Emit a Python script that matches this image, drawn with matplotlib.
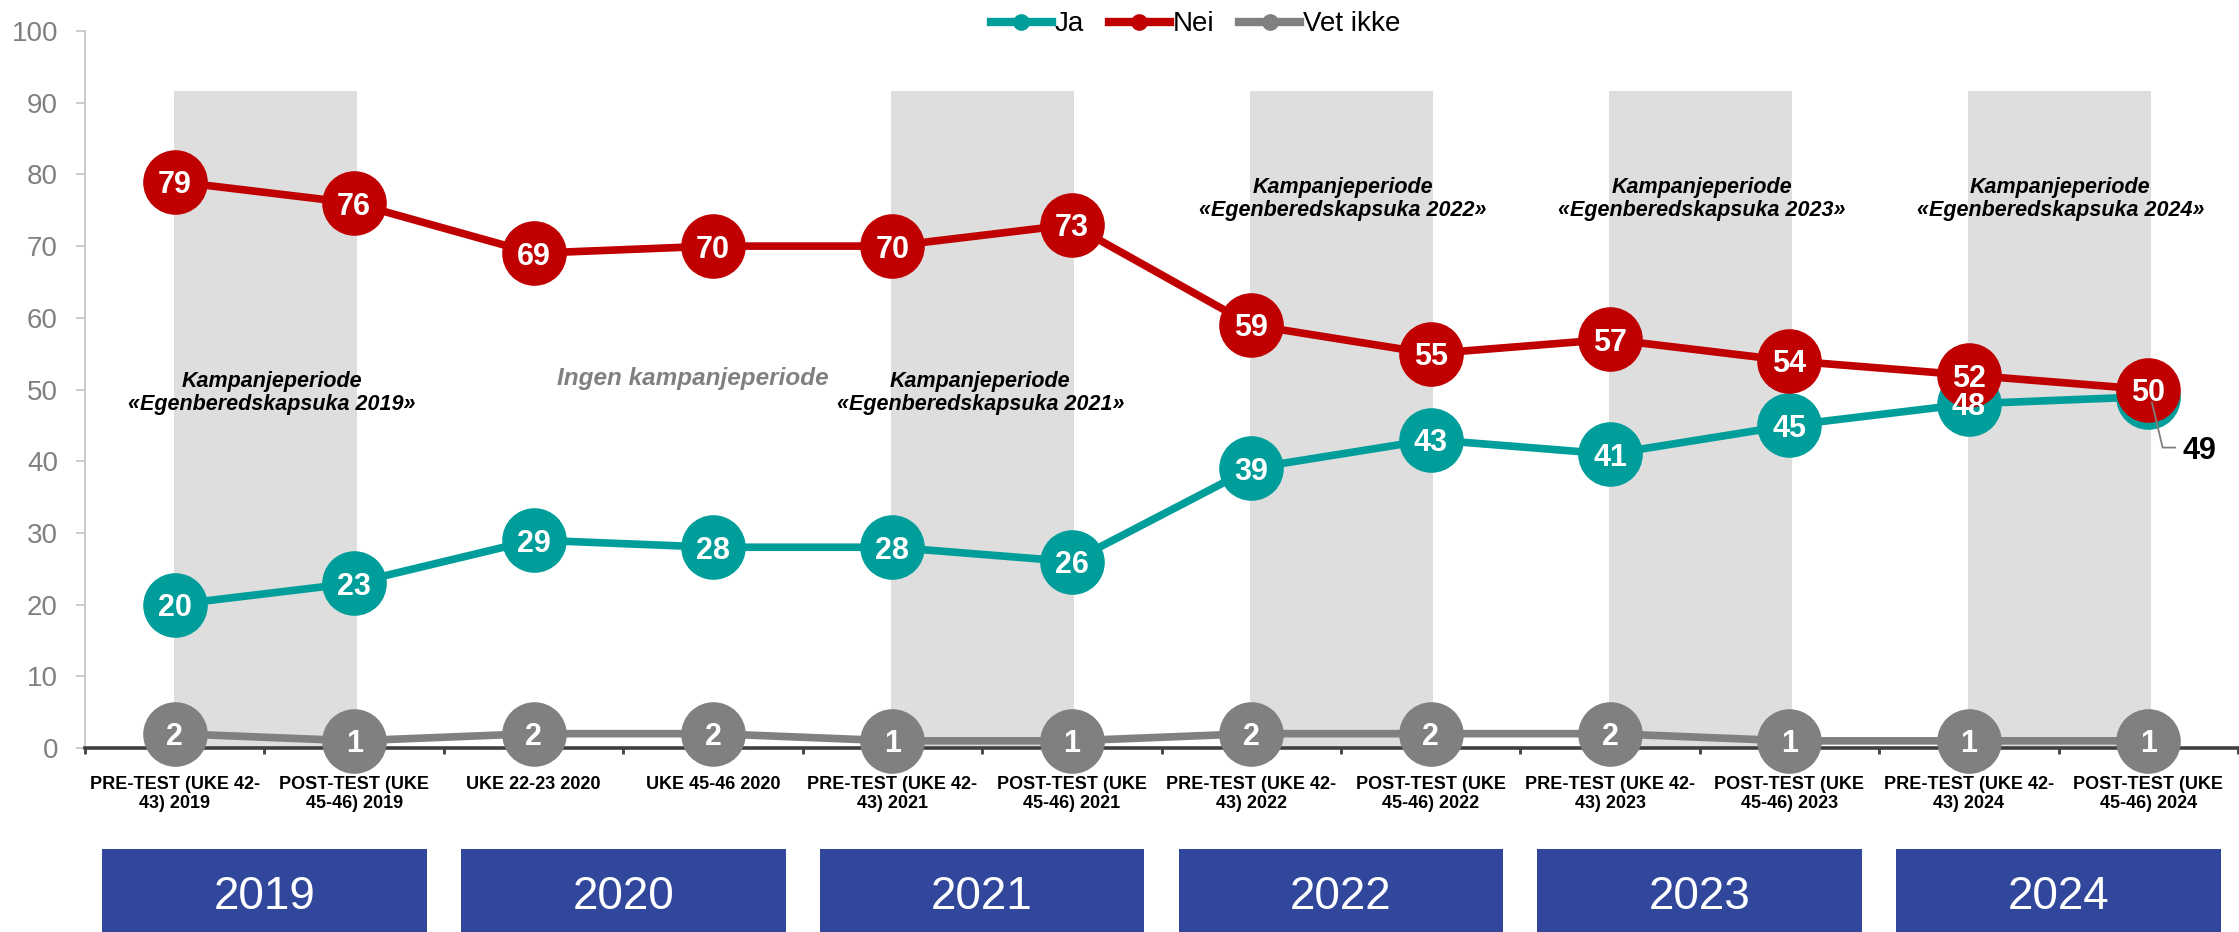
import matplotlib
matplotlib.use("Agg")
import matplotlib.pyplot as plt
from matplotlib.lines import Line2D
from matplotlib.patches import Rectangle
from matplotlib.transforms import blended_transform_factory

# ---- data ----
categories = [
    "PRE-TEST (UKE 42-\n43) 2019", "POST-TEST (UKE\n45-46) 2019",
    "UKE 22-23 2020", "UKE 45-46 2020",
    "PRE-TEST (UKE 42-\n43) 2021", "POST-TEST (UKE\n45-46) 2021",
    "PRE-TEST (UKE 42-\n43) 2022", "POST-TEST (UKE\n45-46) 2022",
    "PRE-TEST (UKE 42-\n43) 2023", "POST-TEST (UKE\n45-46) 2023",
    "PRE-TEST (UKE 42-\n43) 2024", "POST-TEST (UKE\n45-46) 2024",
]
ja = [20, 23, 29, 28, 28, 26, 39, 43, 41, 45, 48, 49]
nei = [79, 76, 69, 70, 70, 73, 59, 55, 57, 54, 52, 50]
vet_ikke = [2, 1, 2, 2, 1, 1, 2, 2, 2, 1, 1, 1]
series_names = ["Ja", "Nei", "Vet ikke"]
years = ["2019", "2020", "2021", "2022", "2023", "2024"]
campaign_pairs = [0, 4, 6, 8, 10]          # first index of shaded pairs
campaign_labels = {
    0: "Kampanjeperiode\n«Egenberedskapsuka 2019»",
    4: "Kampanjeperiode\n«Egenberedskapsuka 2021»",
    6: "Kampanjeperiode\n«Egenberedskapsuka 2022»",
    8: "Kampanjeperiode\n«Egenberedskapsuka 2023»",
    10: "Kampanjeperiode\n«Egenberedskapsuka 2024»",
}
no_campaign_label = "Ingen kampanjeperiode"

# ---- style ----
C_JA = "#009E9A"
C_NEI = "#C00000"
C_VET = "#808080"
C_BAND = "#DEDEDE"
C_BOX = "#30479B"
NARROW = ["Liberation Sans Narrow", "Liberation Sans", "DejaVu Sans"]
REG = ["Liberation Sans", "DejaVu Sans"]

plt.rcParams["font.family"] = REG

fig = plt.figure(figsize=(22.39, 9.32), dpi=100)
ax = fig.add_axes([85 / 2239, 1 - 748 / 932, (2238 - 85) / 2239, (748 - 31) / 932])
n = len(categories)
x = list(range(n))
ax.set_xlim(-0.5, n - 0.5)
ax.set_ylim(0, 100)

# shaded campaign bands
for i in campaign_pairs:
    ax.add_patch(Rectangle((i - 0.005, 0), 1.02, 91.6, facecolor=C_BAND,
                           edgecolor="none", zorder=0.5))

MS = 45.5
LW = 5.5
def draw_series(vals, color, skip_last_label=False):
    ax.plot(x, vals, color=color, lw=LW, marker="o", ms=MS, zorder=4,
            clip_on=False, solid_capstyle="round")
    for i, v in enumerate(vals):
        if skip_last_label and i == n - 1:
            continue
        ax.text(i, v, str(v), ha="center", va="center_baseline", color="white",
                fontsize=22, fontweight="bold", family=REG, zorder=5)

draw_series(vet_ikke, C_VET)
draw_series(ja, C_JA, skip_last_label=True)
draw_series(nei, C_NEI)

# external label for hidden Ja value
ax.plot([n - 1 + 0.02, n - 1 + 0.08, n - 1 + 0.15],
        [ja[-1] - 0.8, ja[-1] - 7.1, ja[-1] - 7.1],
        color="#7F7F7F", lw=1.3, zorder=6, clip_on=False)
ax.text(n - 1 + 0.19, ja[-1] - 7.1, str(ja[-1]), ha="left", va="center_baseline",
        fontsize=22, fontweight="bold", color="black", family=REG, zorder=6)

# campaign annotations
ann_pos = {0: (0.54, 49.5), 4: (4.49, 49.5), 6: (6.51, 76.6), 8: (8.51, 76.6), 10: (10.51, 76.6)}
for k, txt in campaign_labels.items():
    px, py = ann_pos[k]
    ax.text(px, py, txt, ha="center", va="center", fontsize=15.5, fontweight="bold",
            style="italic", family=NARROW, color="black", linespacing=1.1, zorder=3)
ax.text(2.89, 51.6, no_campaign_label, ha="center", va="center", fontsize=17.5,
        fontweight="bold", style="italic", family=NARROW, color="#808080", zorder=3)

# axes styling
for s in ["top", "right"]:
    ax.spines[s].set_visible(False)
ax.spines["left"].set_color("#BFBFBF")
ax.spines["left"].set_linewidth(1.1)
ax.spines["bottom"].set_color("#404040")
ax.spines["bottom"].set_linewidth(2.6)

ax.set_yticks(range(0, 101, 10))
ax.tick_params(axis="y", colors="#BFBFBF", length=6.5, width=1.1, pad=13,
               labelsize=20, labelcolor="#808080")
ax.set_xticks(x)
ax.set_xticklabels(categories, fontsize=13, fontweight="bold", family=NARROW,
                   linespacing=1.15, color="black", va="top")
ax.tick_params(axis="x", which="major", length=0, pad=20)
ax.set_xticks([i - 0.5 for i in range(n + 1)], minor=True)
ax.tick_params(axis="x", which="minor", length=4.5, width=2, color="#404040")

# year boxes
tr = blended_transform_factory(ax.transData, fig.transFigure)
for j, yr in enumerate(years):
    c = 2 * j + 0.5
    fig.add_artist(Rectangle((c - 0.905, 0), 1.81, 1 - 849 / 932, transform=tr,
                             facecolor=C_BOX, edgecolor="none", clip_on=False))
    fig.text(c, 1 - 897 / 932, yr, transform=tr, ha="center", va="center",
             color="white", fontsize=33, family=REG)

# legend
handles = [Line2D([0], [0], color=c, lw=6, marker="o", ms=11)
           for c in [C_JA, C_NEI, C_VET]]
fig.legend(handles, series_names, loc="center", bbox_to_anchor=(0.534, 0.974),
           ncol=3, frameon=False, fontsize=20, handlelength=2.2,
           handletextpad=0.1, columnspacing=0.9)

fig.savefig("out.png", dpi=100)
